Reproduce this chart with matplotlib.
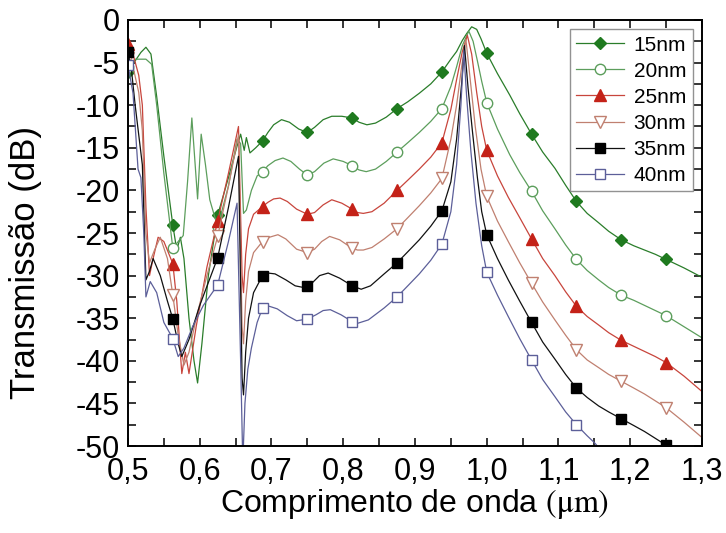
import numpy as np
import matplotlib
matplotlib.use('Agg')
import matplotlib.pyplot as plt
from matplotlib.ticker import MultipleLocator, FuncFormatter

# marker positions (um)
markX = [0.5, 0.5625, 0.625, 0.6875, 0.75, 0.8125, 0.875, 0.9375, 1.0, 1.0625, 1.125, 1.1875, 1.25]

x15 = [0.5, 0.51, 0.518, 0.525, 0.532, 0.54, 0.55, 0.5625, 0.568, 0.573, 0.578, 0.585, 0.592, 0.597, 0.603,
       0.612, 0.625, 0.64, 0.652, 0.657, 0.662, 0.665, 0.67, 0.678,
       0.6875, 0.695, 0.703, 0.714, 0.725, 0.738, 0.75, 0.76, 0.772, 0.784, 0.798, 0.8125, 0.822, 0.833,
       0.845, 0.86, 0.875, 0.89, 0.906, 0.922, 0.9375, 0.95, 0.958, 0.966, 0.972, 0.979, 0.986, 0.992, 1.0,
       1.015, 1.032, 1.046, 1.0625, 1.078, 1.095, 1.11, 1.125, 1.14, 1.156, 1.17, 1.1875, 1.205, 1.22, 1.235,
       1.25, 1.275, 1.3]
y15 = [-6.1, -4.8, -3.8, -3.2, -4.0, -9.0, -16.0, -24.1, -27.0, -25.5, -28.0, -35.0, -40.0, -42.6, -38.0,
       -30.0, -22.9, -18.5, -14.8, -13.4, -15.3, -13.8, -15.6, -15.0,
       -14.2, -13.2, -12.3, -11.7, -12.0, -12.8, -13.2, -12.6, -11.7, -11.3, -11.3, -11.5, -12.0, -12.3,
       -12.1, -11.4, -10.4, -9.6, -8.6, -7.5, -6.1, -4.6, -3.7, -2.4, -1.6, -0.8, -1.1, -2.2, -3.9,
       -6.3, -8.8, -11.0, -13.4, -15.5, -17.4, -19.4, -21.3, -22.7, -23.8, -24.8, -25.8, -26.5, -27.0, -27.5,
       -28.1, -29.1, -30.2]

x20 = [0.5, 0.51, 0.525, 0.533, 0.54, 0.55, 0.5625, 0.57, 0.577, 0.583, 0.589, 0.597, 0.602, 0.608, 0.614,
       0.625, 0.64, 0.652, 0.657, 0.661, 0.665, 0.672, 0.68,
       0.6875, 0.695, 0.705, 0.716, 0.727, 0.739, 0.75, 0.76, 0.773, 0.786, 0.8, 0.8125, 0.822, 0.832,
       0.845, 0.86, 0.875, 0.89, 0.906, 0.922, 0.9375, 0.95, 0.958, 0.966, 0.975, 0.981, 0.987, 0.993, 1.0,
       1.015, 1.032, 1.046, 1.0625, 1.078, 1.095, 1.11, 1.125, 1.14, 1.156, 1.17, 1.1875, 1.205, 1.22, 1.235,
       1.25, 1.275, 1.3]
y20 = [-5.5, -4.6, -4.6, -5.2, -10.0, -18.0, -26.8, -26.0, -25.3, -19.0, -11.5, -21.0, -13.4, -17.0, -21.1,
       -24.3, -19.5, -14.0, -14.5, -22.7, -22.3, -20.0, -18.3,
       -17.8, -17.1, -16.5, -16.2, -16.6, -17.5, -18.2, -17.8, -16.8, -16.3, -16.6, -17.1, -17.6, -17.8,
       -17.5, -16.6, -15.5, -14.4, -13.2, -11.9, -10.4, -7.8, -5.5, -3.0, -1.3, -2.5, -4.8, -7.2, -9.7,
       -12.8, -15.8, -17.9, -20.1, -22.4, -24.5, -26.4, -28.1, -29.4, -30.5, -31.4, -32.3, -32.9, -33.5, -34.1,
       -34.7, -36.0, -37.3]

x25 = [0.5, 0.507, 0.515, 0.52, 0.525, 0.53, 0.535, 0.542, 0.55, 0.5625, 0.568, 0.575, 0.58, 0.585, 0.595,
       0.61, 0.625, 0.64, 0.654, 0.659, 0.661, 0.664, 0.668, 0.675,
       0.6875, 0.695, 0.703, 0.712, 0.722, 0.735, 0.75, 0.76, 0.772, 0.784, 0.798, 0.8125, 0.82, 0.828,
       0.84, 0.857, 0.875, 0.89, 0.906, 0.922, 0.9375, 0.95, 0.958, 0.966, 0.973, 0.979, 0.986, 0.993, 1.0,
       1.015, 1.03, 1.046, 1.0625, 1.078, 1.095, 1.11, 1.125, 1.14, 1.156, 1.17, 1.1875, 1.205, 1.22, 1.235,
       1.25, 1.275, 1.3]
y25 = [-2.8, -4.0, -6.5, -10.0, -22.0, -30.0, -28.0, -25.5, -26.0, -28.6, -33.0, -41.5, -39.0, -41.5, -36.0,
       -29.0, -23.6, -18.0, -12.5, -30.0, -32.0, -27.5, -24.5, -22.8,
       -21.9, -21.4, -21.0, -20.9, -21.3, -22.2, -22.8, -22.6, -21.7, -21.1, -21.5, -22.2, -22.6, -22.7,
       -22.5, -21.5, -20.0, -18.8, -17.5, -16.1, -14.4, -10.5, -7.0, -3.7, -1.8, -4.0, -8.5, -12.5, -15.3,
       -18.3, -20.8, -23.2, -25.7, -28.0, -30.0, -31.9, -33.6, -34.8, -35.8, -36.7, -37.6, -38.3, -38.9, -39.5,
       -40.2, -41.8, -43.6]

x30 = [0.5, 0.507, 0.515, 0.52, 0.525, 0.53, 0.537, 0.545, 0.555, 0.5625, 0.57, 0.578, 0.585, 0.595, 0.61,
       0.625, 0.64, 0.654, 0.659, 0.661, 0.664, 0.668, 0.675,
       0.6875, 0.697, 0.709, 0.72, 0.735, 0.75, 0.76, 0.77, 0.781, 0.795, 0.8125, 0.82, 0.828, 0.84, 0.857,
       0.875, 0.89, 0.906, 0.922, 0.9375, 0.95, 0.958, 0.965, 0.971, 0.977, 0.984, 0.992, 1.0,
       1.015, 1.03, 1.046, 1.0625, 1.078, 1.095, 1.11, 1.125, 1.14, 1.156, 1.17, 1.1875, 1.205, 1.22, 1.235,
       1.25, 1.275, 1.3]
y30 = [-4.5, -5.5, -8.5, -13.0, -25.0, -28.5, -27.0, -25.5, -28.0, -32.3, -37.0, -40.5, -39.0, -35.0, -30.0,
       -25.4, -19.5, -13.5, -36.0, -38.0, -33.0, -29.5, -27.3,
       -26.0, -25.5, -25.2, -25.7, -26.9, -27.3, -26.9, -26.0, -25.4, -25.8, -26.8, -27.0, -27.0, -26.7, -25.7,
       -24.5, -23.2, -21.8, -20.3, -18.6, -14.0, -10.0, -5.5, -2.3, -7.0, -12.5, -17.5, -20.7,
       -23.6, -26.0, -28.5, -30.9, -33.1, -35.2, -37.0, -38.7, -39.9, -40.8, -41.6, -42.4, -43.2, -43.9, -44.7,
       -45.5, -47.2, -49.0]

x35 = [0.5, 0.505, 0.51, 0.515, 0.52, 0.525, 0.53, 0.535, 0.545, 0.555, 0.5625, 0.57, 0.575, 0.585, 0.6,
       0.625, 0.64, 0.654, 0.659, 0.661, 0.664, 0.668, 0.675,
       0.6875, 0.695, 0.705, 0.72, 0.733, 0.745, 0.75, 0.755, 0.767, 0.779, 0.795, 0.8125, 0.825, 0.838, 0.857,
       0.875, 0.89, 0.906, 0.922, 0.9375, 0.95, 0.958, 0.965, 0.969, 0.974, 0.98, 0.987, 0.993, 1.0,
       1.015, 1.03, 1.046, 1.0625, 1.078, 1.095, 1.11, 1.125, 1.14, 1.156, 1.17, 1.1875, 1.205, 1.22, 1.235,
       1.25, 1.275, 1.3]
y35 = [-3.7, -6.0, -10.0, -13.5, -17.0, -30.5, -29.5, -28.0, -30.0, -33.0, -35.1, -38.0, -39.5, -37.5, -33.5,
       -27.9, -22.0, -16.0, -42.0, -44.0, -39.0, -35.0, -32.0,
       -30.0, -29.7, -29.8, -30.5, -31.2, -31.4, -31.2, -31.0, -30.0, -29.7, -30.3, -31.2, -31.6, -31.2, -29.8,
       -28.5, -27.2, -25.8, -24.2, -22.4, -19.0, -14.0, -7.5, -3.0, -8.0, -13.0, -18.5, -22.5, -25.2,
       -28.0, -30.5, -33.0, -35.5, -37.8, -39.8, -41.6, -43.2, -44.3, -45.3, -46.0, -46.8, -47.6, -48.3, -49.1,
       -49.9, -51.4, -53.0]

x40 = [0.5, 0.507, 0.514, 0.518, 0.522, 0.525, 0.531, 0.54, 0.55, 0.5625, 0.57, 0.578, 0.59, 0.605, 0.625,
       0.64, 0.652, 0.657, 0.660, 0.663, 0.667, 0.672, 0.68,
       0.6875, 0.697, 0.708, 0.722, 0.735, 0.75, 0.762, 0.772, 0.782, 0.797, 0.8125, 0.82, 0.835, 0.857,
       0.875, 0.89, 0.906, 0.922, 0.9375, 0.95, 0.958, 0.964, 0.968, 0.972, 0.978, 0.985, 0.993, 1.0,
       1.015, 1.03, 1.046, 1.0625, 1.078, 1.095, 1.11, 1.125, 1.14, 1.15, 1.17]
y40 = [-5.3, -8.6, -17.5, -18.5, -25.0, -32.5, -30.7, -32.0, -35.5, -37.4, -39.5, -38.5, -36.0, -33.5, -31.1,
       -26.0, -21.5, -40.0, -52.0, -45.0, -41.0, -38.5, -35.5,
       -33.8, -33.6, -33.9, -34.7, -35.3, -35.1, -34.6, -34.1, -34.0, -34.6, -35.4, -35.6, -35.2, -33.8,
       -32.5, -31.2, -29.8, -28.2, -26.3, -22.5, -17.0, -10.0, -3.6, -9.0, -15.5, -21.5, -26.5, -29.6,
       -32.3, -34.8, -37.4, -39.9, -42.2, -44.2, -46.0, -47.5, -48.8, -49.6, -51.5]

labels = ['15nm', '20nm', '25nm', '30nm', '35nm', '40nm']

plt.rcParams['font.family'] = ['Liberation Sans', 'DejaVu Sans']
plt.rcParams['mathtext.fontset'] = 'stix'
plt.rcParams['axes.unicode_minus'] = False

fig = plt.figure(figsize=(7.26, 5.33), dpi=100)
ax = fig.add_axes([0.1763, 0.1632, 0.7906, 0.7993])

series = [
    (x15, y15, '#2a7d2a', 'D', '#1f7a1f', 6.5),
    (x20, y20, '#5c9e5c', 'o', 'white', 7.5),
    (x25, y25, '#c8453c', '^', '#c42218', 8),
    (x30, y30, '#c08070', 'v', 'white', 8),
    (x35, y35, '#111111', 's', 'black', 6.5),
    (x40, y40, '#5c5f99', 's', 'white', 6.5),
]

for (xs, ys, col, mk, face, ms), lab in zip(series, labels):
    xs = np.array(xs)
    idx = [i for i, v in enumerate(xs) if np.any(np.isclose(v, markX))]
    ax.plot(xs, ys, color=col, lw=0.9, marker=mk, markevery=idx, ms=ms,
            mfc=face, mec=col if face == 'white' else face, mew=1.0, label=lab)

ax.set_xlim(0.5, 1.3)
ax.set_ylim(-50, 0)
ax.xaxis.set_major_locator(MultipleLocator(0.1))
ax.xaxis.set_minor_locator(MultipleLocator(0.05))
ax.yaxis.set_major_locator(MultipleLocator(5))
ax.yaxis.set_minor_locator(MultipleLocator(2.5))
ax.xaxis.set_major_formatter(FuncFormatter(lambda v, p: f'{v:.1f}'.replace('.', ',')))
ax.yaxis.set_major_formatter(FuncFormatter(lambda v, p: f'{v:g}'))
ax.tick_params(which='both', direction='in', top=True, right=True, length=6, width=1.1)
ax.tick_params(axis='x', labelsize=22, pad=8)
ax.tick_params(axis='y', labelsize=22, pad=6)
for s in ax.spines.values():
    s.set_linewidth(1.4)

ax.set_ylabel('Transmissão (dB)', fontsize=25)
ax.yaxis.set_label_coords(-0.15, 0.43)
ax.set_xlabel(r'Comprimento de onda $\mathrm{(\mu m)}$', fontsize=23, labelpad=0)

leg = ax.legend(loc='upper right', fontsize=15, frameon=True, fancybox=False, borderaxespad=0.45,
                handlelength=2.3, handletextpad=0.45, labelspacing=0.34, borderpad=0.3)
leg.get_frame().set_edgecolor('#777777')
leg.get_frame().set_linewidth(1.0)

fig.savefig('out.png', dpi=100)
